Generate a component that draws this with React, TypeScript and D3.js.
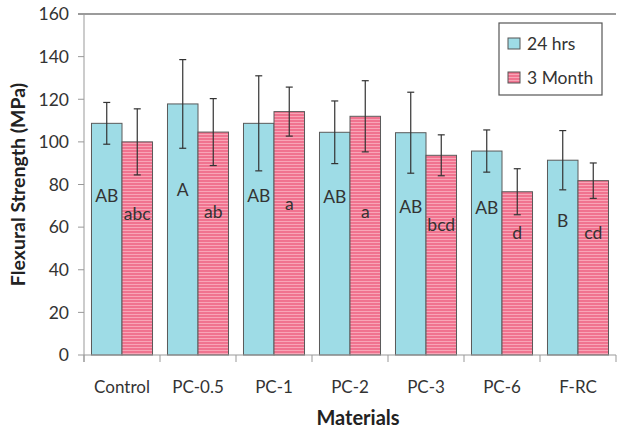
import React from "react";
import * as d3 from "d3";

const categories = ["Control", "PC-0.5", "PC-1", "PC-2", "PC-3", "PC-6", "F-RC"];
const seriesNames = ["24 hrs", "3 Month"];
const means24h = [108.7, 117.8, 108.7, 104.5, 104.3, 95.7, 91.4];
const sd24h = [9.8, 20.8, 22.3, 14.7, 19.0, 9.9, 13.9];
const means3m = [100.0, 104.6, 114.2, 112.0, 93.7, 76.6, 81.8];
const sd3m = [15.5, 15.7, 11.5, 16.7, 9.6, 10.8, 8.3];
const letters24h = ["AB", "A", "AB", "AB", "AB", "AB", "B"];
const letters3m = ["abc", "ab", "a", "a", "bcd", "d", "cd"];
// label heights in data units (MPa) where the letters sit
const letterLevel24h = [74.6, 77.4, 74.6, 74.1, 69.4, 69.0, 62.9];
const letterLevel3m = [66.2, 67.1, 70.9, 67.1, 61.0, 57.3, 57.3];
const yTicks = [0, 20, 40, 60, 80, 100, 120, 140, 160];

const W = 624;
const H = 434;
const FONT = "Lato, 'Open Sans', sans-serif";

export default function App() {
  const left = 84;
  const right = 616;
  const top = 14;
  const bottom = 355;

  const y = d3.scaleLinear().domain([0, 160]).range([bottom, top]);
  const x0 = d3
    .scaleBand<string>()
    .domain(categories)
    .range([left, right])
    .paddingInner(0.197)
    .paddingOuter(0.0985);
  const x1 = d3.scaleBand<string>().domain(seriesNames).range([0, x0.bandwidth()]).padding(0);
  const step = x0.step();

  const series = [
    { name: seriesNames[0], means: means24h, sd: sd24h, letters: letters24h, lv: letterLevel24h, fill: "#9edce6" },
    { name: seriesNames[1], means: means3m, sd: sd3m, letters: letters3m, lv: letterLevel3m, fill: "url(#pinkStripes)" },
  ];

  return (
    <svg
      width={W}
      height={H}
      style={{ position: "fixed", left: 0, top: 0, background: "#fff" }}
      fontFamily={FONT}
    >
      <defs>
        <pattern id="pinkStripes" width="4" height="3" patternUnits="userSpaceOnUse">
          <rect width="4" height="3" fill="#f0738f" />
          <rect y="2" width="4" height="1" fill="#f8a5b7" />
        </pattern>
      </defs>

      {/* top border line */}
      <line x1={78} x2={right} y1={y(160)} y2={y(160)} stroke="#7a7a7a" strokeWidth={1.5} />

      {/* y axis */}
      <line x1={left} x2={left} y1={y(160)} y2={bottom + 7} stroke="#999" strokeWidth={1} />
      {yTicks.map((t) => (
        <g key={t}>
          <line x1={78} x2={left} y1={y(t)} y2={y(t)} stroke="#999" />
          <text x={69} y={y(t)} dy="0.36em" textAnchor="end" fontSize={17.5} fill="#333">
            {t}
          </text>
        </g>
      ))}

      {/* bars */}
      {series.map((s) =>
        categories.map((c, i) => {
          const bx = (x0(c) as number) + (x1(s.name) as number);
          const bw = x1.bandwidth();
          return (
            <rect
              key={s.name + c}
              x={bx}
              y={y(s.means[i])}
              width={bw}
              height={bottom - y(s.means[i])}
              fill={s.fill}
              stroke="#5a5a5a"
              strokeWidth={1}
            />
          );
        })
      )}

      {/* x axis */}
      <line x1={left} x2={right} y1={bottom} y2={bottom} stroke="#999" strokeWidth={1.2} />
      {d3.range(categories.length + 1).map((k) => (
        <line key={k} x1={left + k * step} x2={left + k * step} y1={bottom} y2={bottom + 7} stroke="#999" />
      ))}
      {categories.map((c) => (
        <text
          key={c}
          x={(x0(c) as number) + x0.bandwidth() / 2}
          y={387}
          textAnchor="middle"
          fontSize={17}
          fill="#333"
          dy="0.35em"
        >
          {c}
        </text>
      ))}

      {/* error bars */}
      {series.map((s) =>
        categories.map((c, i) => {
          const cx = (x0(c) as number) + (x1(s.name) as number) + x1.bandwidth() / 2;
          const hi = y(s.means[i] + s.sd[i]);
          const lo = y(s.means[i] - s.sd[i]);
          return (
            <g key={"e" + s.name + c} stroke="#333" strokeWidth={1.2}>
              <line x1={cx} x2={cx} y1={hi} y2={lo} />
              <line x1={cx - 3.5} x2={cx + 3.5} y1={hi} y2={hi} />
              <line x1={cx - 3.5} x2={cx + 3.5} y1={lo} y2={lo} />
            </g>
          );
        })
      )}

      {/* letters */}
      {series.map((s) =>
        categories.map((c, i) => {
          const cx = (x0(c) as number) + (x1(s.name) as number) + x1.bandwidth() / 2;
          return (
            <text
              key={"l" + s.name + c}
              x={cx}
              y={y(s.lv[i])}
              dy="0.35em"
              textAnchor="middle"
              fontSize={17.5}
              fill="#333"
            >
              {s.letters[i]}
            </text>
          );
        })
      )}

      {/* axis titles */}
      <text
        transform={`translate(18,${184.5}) rotate(-90)`}
        textAnchor="middle"
        dy="0.35em"
        fontSize={19.5}
        fontWeight="bold"
        fill="#222"
      >
        Flexural Strength (MPa)
      </text>
      <text x={358} y={418} textAnchor="middle" dy="0.35em" fontSize={20} fontWeight="bold" fill="#222">
        Materials
      </text>

      {/* legend */}
      <rect x={499} y={23} width={103} height={72} fill="#fff" stroke="#555" strokeWidth={1.2} />
      {series.map((s, k) => (
        <g key={"lg" + s.name}>
          <rect x={508} y={38 + k * 34} width={12} height={11} fill={s.fill} stroke="#555" />
          <text x={527} y={43.5 + k * 34} dy="0.35em" fontSize={17.5} fill="#333">
            {s.name}
          </text>
        </g>
      ))}
    </svg>
  );
}
